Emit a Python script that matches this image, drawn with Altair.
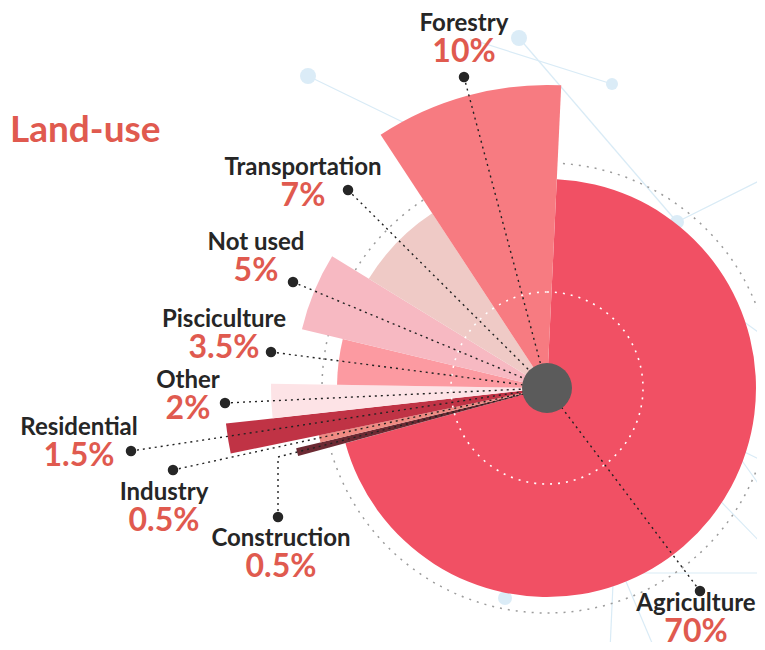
import math
import altair as alt
import pandas as pd

# ---------------- data ----------------
categories = ["Agriculture", "Construction", "Industry", "Residential", "Other",
              "Pisciculture", "Not used", "Transportation", "Forestry"]
shares = [70, 0.5, 0.5, 1.5, 2, 3.5, 5, 7, 10]          # percent of land
extent = [209, 258, 233, 323, 276, 210, 252, 209, 303]   # radial length of each wedge
colors = ["#f15064", "#6c2a33", "#ef8b83", "#c03345", "#fde3e6",
          "#fc9aa1", "#f7b9c2", "#efcac6", "#f77b81"]

# label layout (relative to the chart centre, y up)
label_x = [149, -266, -383, -468, -359, -323, -291, -244, -83]
label_y = [-223, -158, -112, -47, 0, 61, 138, 213, 357]
dot_x = [153, -269, -374, -416, -322, -276, -254, -199, -83]
dot_y = [-203, -129, -82, -63, -15, 36, 106, 198, 311]
elbow = {"Construction": (-269, -69)}

# faint background network (decoration)
node_x = [-239, -28, 65, 130, -42]
node_y = [312, 350, 304, 166, -210]
node_size = [256, 256, 144, 196, 196]
edge_x = [-239, -28, -77, 130, 153, 173, 173, 153, 13, 68, 53]
edge_y = [312, 350, 349, 166, 98, -52, -42, -92, -185, -152, -132]
edge_x2 = [-97, 130, 65, 218, 218, 218, 218, 218, 218, 63, 108]
edge_y2 = [243, 166, 304, 210, 51, -74, -105, -159, -185, -262, -262]

# ---------------- tables ----------------
slices = pd.DataFrame({
    "cat": categories, "share": shares, "extent": extent,
    "pct": [f"{s:g}%" for s in shares],
    "lx": label_x, "ly": label_y, "dx": dot_x, "dy": dot_y,
})
slices["t1"] = slices["share"].cumsum()
slices["t0"] = slices["t1"] - slices["share"]

rows = []
for c, x0, y0 in zip(categories, dot_x, dot_y):
    pts = [(x0, y0)]
    if c in elbow:
        pts.append(elbow[c])
    pts.append((0, 0))
    for k, (px, py) in enumerate(pts):
        rows.append({"cat": c, "k": k, "u": px, "v": py})
leaders = pd.DataFrame(rows)

nodes = pd.DataFrame({"u": node_x, "v": node_y, "s": node_size})
edges = pd.DataFrame({"u": edge_x, "v": edge_y, "u2": edge_x2, "v2": edge_y2})
outer_ring = pd.DataFrame({"r": [225]})
inner_ring = pd.DataFrame({"r": [96]})
hub = pd.DataFrame({"r": [25]})
title_df = pd.DataFrame({"u": [-537], "v": [246], "t": ["Land-use"]})

# ---------------- scales ----------------
XS = alt.Scale(domain=[-539, 210], nice=False, zero=False)
YS = alt.Scale(domain=[-254, 380], nice=False, zero=False)
RS = alt.Scale(type="linear", domain=[0, 400], range=[0, 400], zero=True)
OFF = 0.047
TS = alt.Scale(type="linear", domain=[0, 100], range=[OFF, OFF + 2 * math.pi], zero=True)


def X(f):
    return alt.X(f, scale=XS, axis=None)


def Y(f):
    return alt.Y(f, scale=YS, axis=None)


CX = alt.X(datum=0, scale=XS, axis=None)
CY = alt.Y(datum=0, scale=YS, axis=None)

net_edges = alt.Chart(edges).mark_rule(color="#d9ebf6", strokeWidth=1.2).encode(
    x=X("u:Q"), y=Y("v:Q"), x2="u2:Q", y2="v2:Q")
net_nodes = alt.Chart(nodes).mark_circle(color="#dbecf7", opacity=1).encode(
    x=X("u:Q"), y=Y("v:Q"), size=alt.Size("s:Q", scale=None, legend=None))

ring_out = alt.Chart(outer_ring).mark_arc(
    theta=0, theta2=2 * math.pi, filled=False, stroke="#9c9c9c",
    strokeWidth=1.5, strokeDash=[2, 6]).encode(
    x=CX, y=CY, radius=alt.Radius("r:Q", scale=RS))

wedges = alt.Chart(slices).mark_arc().encode(
    x=CX, y=CY,
    theta=alt.Theta("t0:Q", scale=TS),
    theta2="t1:Q",
    radius=alt.Radius("extent:Q", scale=RS),
    color=alt.Color("cat:N", scale=alt.Scale(domain=categories, range=colors), legend=None),
)

ring_in = alt.Chart(inner_ring).mark_arc(
    theta=0, theta2=2 * math.pi, filled=False, stroke="#ffffff",
    strokeWidth=1.6, strokeDash=[2, 6]).encode(
    x=CX, y=CY, radius=alt.Radius("r:Q", scale=RS))

lead = alt.Chart(leaders).mark_line(
    color="#222222", strokeWidth=1.4, strokeDash=[2, 4]).encode(
    x=X("u:Q"), y=Y("v:Q"), detail="cat:N", order="k:Q")

center = alt.Chart(hub).mark_arc(theta=0, theta2=2 * math.pi, color="#5b5b5b").encode(
    x=CX, y=CY, radius=alt.Radius("r:Q", scale=RS))

dots = alt.Chart(slices).mark_circle(color="#262626", opacity=1, size=110).encode(
    x=X("dx:Q"), y=Y("dy:Q"))

names = alt.Chart(slices).mark_text(
    font="Lato", fontWeight="bold", fontSize=24, color="#262626",
    align="center", baseline="alphabetic").encode(
    x=X("lx:Q"), y=Y("ly:Q"), text="cat:N")

pcts = alt.Chart(slices).mark_text(
    font="Lato", fontWeight="bold", fontSize=32, color="#e05a4f",
    align="center", baseline="alphabetic", dy=31).encode(
    x=X("lx:Q"), y=Y("ly:Q"), text="pct:N")

title = alt.Chart(title_df).mark_text(
    font="Lato", fontWeight="bold", fontSize=37, color="#e05a4f",
    align="left", baseline="alphabetic").encode(
    x=X("u:Q"), y=Y("v:Q"), text="t:N")

chart = alt.layer(
    net_edges, net_nodes, ring_out, wedges, ring_in, lead, center, dots, names, pcts, title
).properties(
    width=749, height=634, padding=0, autosize="none"
).configure_view(strokeWidth=0)

chart.save("out.html", embed_options={"renderer": "svg", "actions": False})
